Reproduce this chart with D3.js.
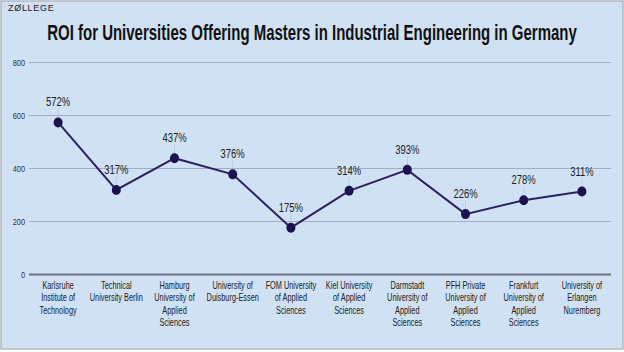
<!DOCTYPE html>
<html lang="en">
<head>
  <meta charset="UTF-8">
  <title>ROI line chart</title>
  <script src="https://d3js.org/d3.v7.min.js"></script>
  <style>
    body { margin: 0; background: #fff; }
    text { font-family: "Liberation Sans", Arial, sans-serif; }
  </style>
</head>
<body>
<div id="chart"></div>
<script>
  let width = 624;
  let height = 352;

  let categories = [
    ["Karlsruhe", "Institute of", "Technology"],
    ["Technical", "University Berlin"],
    ["Hamburg", "University of", "Applied", "Sciences"],
    ["University of", "Duisburg-Essen"],
    ["FOM University", "of Applied", "Sciences"],
    ["Kiel University", "of Applied", "Sciences"],
    ["Darmstadt", "University of", "Applied", "Sciences"],
    ["PFH Private", "University of", "Applied", "Sciences"],
    ["Frankfurt", "University of", "Applied", "Sciences"],
    ["University of", "Erlangen", "Nuremberg"]
  ];
  let roiValues = [572, 317, 437, 376, 175, 314, 393, 226, 278, 311];
  let yTicks = [0, 200, 400, 600, 800];

  // the original uses a very narrow face, so squeeze text horizontally
  let narrow = 0.7;

  let svg = d3.select("#chart")
          .append("svg")
          .attr("width", width)
          .attr("height", height)
          .style("display", "block");

  // background + frame
  svg.append("rect")
          .attr("x", 1).attr("y", 1)
          .attr("width", width - 2).attr("height", height - 4)
          .attr("fill", "#cfe1f3")
          .attr("stroke", "#b4b8bd")
          .attr("stroke-width", 1.5);

  svg.append("text")
          .attr("x", 8).attr("y", 11)
          .style("font-size", "9px")
          .style("letter-spacing", "0.7px")
          .attr("fill", "#222")
          .text("ZØLLEGE");

  let title = svg.append("text")
          .attr("text-anchor", "middle")
          .style("font-size", "22px")
          .style("font-weight", "bold")
          .attr("fill", "#111")
          .text("ROI for Universities Offering Masters in Industrial Engineering in Germany");
  let titleScale = 530 / title.node().getComputedTextLength();
  title.attr("transform", `translate(${width / 2},40) scale(${titleScale},1)`);

  let x = d3.scalePoint()
          .domain(d3.range(categories.length))
          .range([29, 611])
          .padding(0.5);

  let y = d3.scaleLinear()
          .domain([0, 800])
          .range([274, 62]);

  // gridlines
  let yAxis = d3.axisLeft(y)
          .tickValues(yTicks)
          .tickSize(-(611 - 29))
          .tickPadding(5);

  let gAxis = svg.append("g")
          .attr("transform", "translate(29,0)")
          .call(yAxis);
  gAxis.select(".domain").remove();
  gAxis.selectAll(".tick line")
          .attr("stroke", d => d === 0 ? "#6b7280" : "#9fb0c2")
          .attr("stroke-width", d => d === 0 ? 2 : 1);
  gAxis.selectAll(".tick text")
          .attr("fill", "#333")
          .style("font-size", "9.5px")
          .attr("x", null)
          .attr("transform", "translate(-4,0) scale(0.78,1)");

  // category labels
  let xLabels = svg.append("g");
  xLabels.selectAll("text")
          .data(categories)
          .join("text")
          .attr("transform", (d, i) => `translate(${x(i)},289) scale(${narrow},1)`)
          .attr("text-anchor", "middle")
          .attr("fill", "#222")
          .style("font-size", "10.5px")
          .each(function (d) {
            let t = d3.select(this);
            d.forEach((line, k) => {
              t.append("tspan")
                      .attr("x", 0)
                      .attr("dy", k === 0 ? 0 : 12.5)
                      .text(line);
            });
          });

  // leader lines
  svg.append("g").selectAll("line")
          .data(roiValues)
          .join("line")
          .attr("x1", (d, i) => x(i))
          .attr("x2", (d, i) => x(i))
          .attr("y1", d => y(d) - 14)
          .attr("y2", d => y(d))
          .attr("stroke", "#b9c6d4")
          .attr("stroke-width", 0.8);

  let line = d3.line()
          .x((d, i) => x(i))
          .y(d => y(d));

  svg.append("path")
          .datum(roiValues)
          .attr("d", line)
          .attr("fill", "none")
          .attr("stroke", "#2e2360")
          .attr("stroke-width", 2);

  svg.append("g").selectAll("ellipse")
          .data(roiValues)
          .join("ellipse")
          .attr("cx", (d, i) => x(i))
          .attr("cy", d => y(d))
          .attr("rx", 4.5)
          .attr("ry", 5)
          .attr("fill", "#1c1250");

  svg.append("g").selectAll("text")
          .data(roiValues)
          .join("text")
          .attr("transform", (d, i) => `translate(${x(i)},${y(d) - 16}) scale(${narrow},1)`)
          .attr("text-anchor", "middle")
          .attr("fill", "#222")
          .style("font-size", "13.5px")
          .text(d => d + "%");
</script>
</body>
</html>
